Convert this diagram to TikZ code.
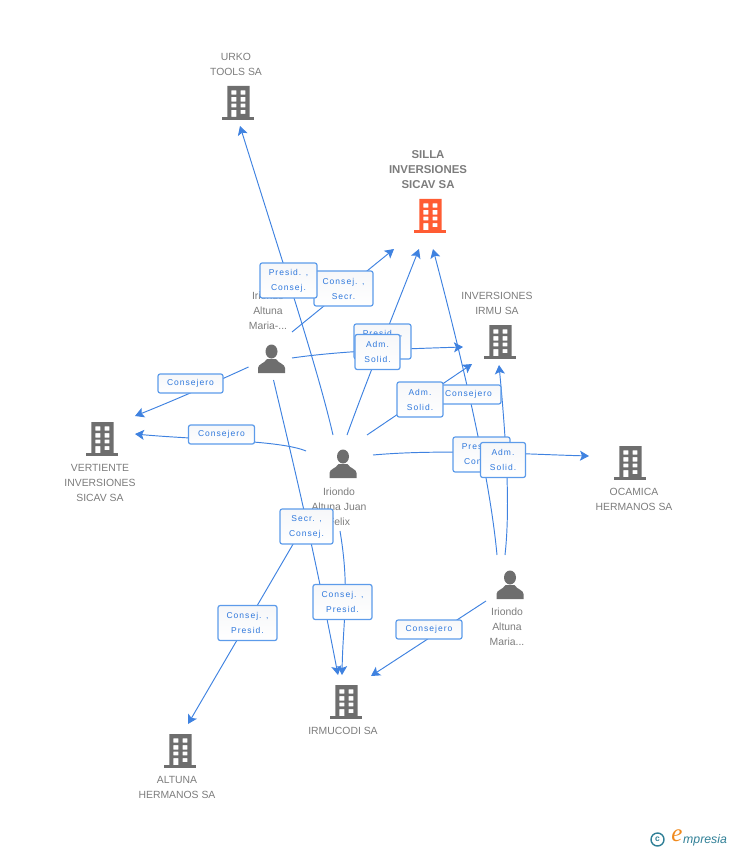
\documentclass[tikz,border=0pt]{standalone}
\usepackage{fontspec}
\setmainfont{Liberation Sans}
\newfontfamily\lblfont[LetterSpace=12]{Liberation Sans}
\newfontfamily\logoserif{Liberation Serif}
\usetikzlibrary{arrows.meta,calc}
\definecolor{linkblue}{HTML}{3F82E0}
\definecolor{boxblue}{HTML}{5C9BEA}
\definecolor{lbltext}{HTML}{2F78DC}
\definecolor{icongray}{HTML}{6E6E6E}
\definecolor{txtgray}{HTML}{7C7C7C}
\definecolor{hot}{HTML}{FF5C33}
\definecolor{teal1}{HTML}{2F7F96}
\definecolor{logoor}{HTML}{F08A1E}
\definecolor{tagtop}{HTML}{F6F7F9}
\tikzset{
  x=1pt,y=-1pt,
  iconbox/.style={inner sep=0pt,minimum width=32pt,minimum height=36pt},
  nm/.style={font=\fontsize{10.4}{15}\selectfont,text=txtgray,align=center,inner sep=0pt},
  nmhot/.style={font=\fontsize{11.4}{14.6}\selectfont\bfseries,text=txtgray,align=center,inner sep=0pt},
  link/.style={draw=linkblue,line width=0.95pt,-{Stealth[length=9pt,width=10pt,inset=2pt]}},
  tag/.style 2 args={draw=boxblue,line width=1.2pt,rounded corners=2.2pt,
    top color=tagtop,bottom color=white,
    minimum width=#1,minimum height=#2,inner sep=0pt,text=lbltext,align=center,
    font=\lblfont\fontsize{8.5}{15}\selectfont},
  bldg/.pic={
    \fill[pic actions,even odd rule]
      (-10.7,-17) rectangle (11.7,14)
      (-6.7,-12.7) rectangle (-1.7,-8.3)  (2.7,-12.7) rectangle (7.3,-8.3)
      (-6.7,-6) rectangle (-1.7,-1.3) (2.7,-6) rectangle (7.3,-1.3)
      (-6.7,0.7) rectangle (-1.7,4.3) (2.7,0.7) rectangle (7.3,4.3)
      (-6.7,7) rectangle (-1.7,14) (2.7,7) rectangle (7.3,11);
    \fill[pic actions] (-16,14) rectangle (16,17);
  },
  persn/.pic={
    \fill[pic actions] (0,-7.5) ellipse (6 and 7);
    \fill[pic actions] (-13.5,14) -- (-13.5,9) .. controls (-13.5,5) and (-7,4.5) .. (-4.5,0)
       -- (4.5,0) .. controls (7,4.5) and (13.5,5) .. (13.5,9) -- (13.5,14) -- cycle;
  }
}
\begin{document}
\begin{tikzpicture}
\useasboundingbox (0,0) rectangle (728,850);
% icons
\node[iconbox] (urko) at (238,103) {};
\node[iconbox] (silla) at (430,216) {};
\node[iconbox] (irmu) at (500,342) {};
\node[iconbox] (vert) at (102,439) {};
\node[iconbox] (ocam) at (630,463) {};
\node[iconbox] (irmc) at (346,702) {};
\node[iconbox] (altu) at (180,751) {};
\node[iconbox] (mara) at (271.5,359) {};
\node[iconbox] (juan) at (343,464) {};
\node[iconbox] (marb) at (510,585) {};
\pic[fill=icongray] at (urko) {bldg};
\pic[fill=hot] at (silla) {bldg};
\pic[fill=icongray] at (irmu) {bldg};
\pic[fill=icongray] at (vert) {bldg};
\pic[fill=icongray] at (ocam) {bldg};
\pic[fill=icongray] at (irmc) {bldg};
\pic[fill=icongray] at (altu) {bldg};
\pic[fill=icongray] at (mara) {persn};
\pic[fill=icongray] at (juan) {persn};
\pic[fill=icongray] at (marb) {persn};
% names
\node[nm] (urkot) at (236,64.5) {URKO\\TOOLS SA};
\node[nmhot] (sillat) at (428,169.5) {SILLA\\INVERSIONES\\SICAV SA};
\node[nm] (irmut) at (497,303.5) {INVERSIONES\\IRMU SA};
\node[nm] (marat) at (268,311) {Iriondo\\Altuna\\Maria-...};
\node[nm] (juant) at (339,507) {Iriondo\\Altuna Juan\\Felix};
\node[nm] (vertt) at (100,483) {VERTIENTE\\INVERSIONES\\SICAV SA};
\node[nm] (ocamt) at (634,499.5) {OCAMICA\\HERMANOS SA};
\node[nm] (marbt) at (507,627) {Iriondo\\Altuna\\Maria...};
\node[nm] (irmct) at (343,731) {IRMUCODI SA};
\node[nm] (altut) at (177,787.5) {ALTUNA\\HERMANOS SA};
% connectors
\draw[link] ($(juan)+(-10,-29)$) .. controls (318,370) and (285,270) .. ($(urko)+(2,23)$);
\draw[link] ($(mara)+(20.5,-27)$) -- ($(silla)+(-36,33)$);
\draw[link] ($(juan)+(4,-29)$) .. controls (365,385) and (395,310) .. ($(silla)+(-11,33)$);
\draw[link] ($(mara)+(20.5,-1)$) .. controls (340,351) and (400,349) .. ($(irmu)+(-37,5)$);
\draw[link] ($(juan)+(24,-29)$) -- ($(irmu)+(-28,22)$);
\draw[link] ($(marb)+(-13,-30)$) .. controls (490,480) and (465,370) .. ($(silla)+(3,33)$);
\draw[link] ($(marb)+(-5,-30)$) .. controls (510,510) and (507,450) .. ($(irmu)+(-1,23)$);
\draw[link] ($(juan)+(30,-9)$) .. controls (440,449) and (520,454) .. ($(ocam)+(-41,-7)$);
\draw[link] ($(mara)+(2,21)$) .. controls (290,450) and (310,530) .. ($(irmc)+(-8,-27)$);
\draw[link] ($(juan)+(-3,67)$) .. controls (350,590) and (343,620) .. ($(irmc)+(-4,-27)$);
\draw[link] ($(juan)+(-37,58)$) -- ($(altu)+(8,-27)$);
\draw[link] ($(marb)+(-24,16)$) -- ($(irmc)+(25,-26)$);
\draw[link] ($(mara)+(-23,8)$) .. controls (220,380) and (180,398) .. ($(vert)+(33,-23)$);
\draw[link] ($(juan)+(-37,-13)$) .. controls (280,440) and (200,440) .. ($(vert)+(33,-5)$);
% edge labels
\node[tag={65pt}{19pt}] (t1) at (190.5,383.5) {Consejero};
\node[tag={66pt}{19pt}] (t2) at (221.5,434.5) {Consejero};
\node[tag={59pt}{35pt}] (t3) at (343.5,288.5) {Consej. ,\\Secr.};
\node[tag={57pt}{35pt}] (t4) at (288.5,280.5) {Presid. ,\\Consej.};
\node[tag={57pt}{35pt}] (t5) at (382.5,341.5) {Presid. ,\\Consej.};
\node[tag={45pt}{35pt}] (t6) at (377.5,352) {Adm.\\Solid.};
\node[tag={65pt}{19pt}] (t7) at (468.5,394.5) {Consejero};
\node[tag={46pt}{35pt}] (t8) at (420,399.5) {Adm.\\Solid.};
\node[tag={57pt}{35pt}] (t9) at (481.5,454.5) {Presid. ,\\Consej.};
\node[tag={45pt}{35pt}] (t10) at (503,460) {Adm.\\Solid.};
\node[tag={53pt}{35pt}] (t11) at (306.5,526.5) {Secr. ,\\Consej.};
\node[tag={59pt}{35pt}] (t12) at (342.5,602) {Consej. ,\\Presid.};
\node[tag={59pt}{35pt}] (t13) at (247.5,623) {Consej. ,\\Presid.};
\node[tag={66pt}{19pt}] (t14) at (429,629.5) {Consejero};
% logo
\node[draw=teal1,line width=1.4pt,circle,minimum size=13pt,inner sep=0pt,text=teal1,font=\fontsize{8.5}{8.5}\selectfont\bfseries] (logoc) at (657.5,839.5) {c};
\node[inner sep=0pt,text=logoor,font=\logoserif\fontsize{25}{25}\selectfont\itshape] (logoe) at (677,836) {e};
\node[inner sep=0pt,text=teal1,font=\fontsize{12.3}{12}\selectfont\itshape,anchor=west] (logot) at (683,840.5) {mpresia};
\end{tikzpicture}
\end{document}
